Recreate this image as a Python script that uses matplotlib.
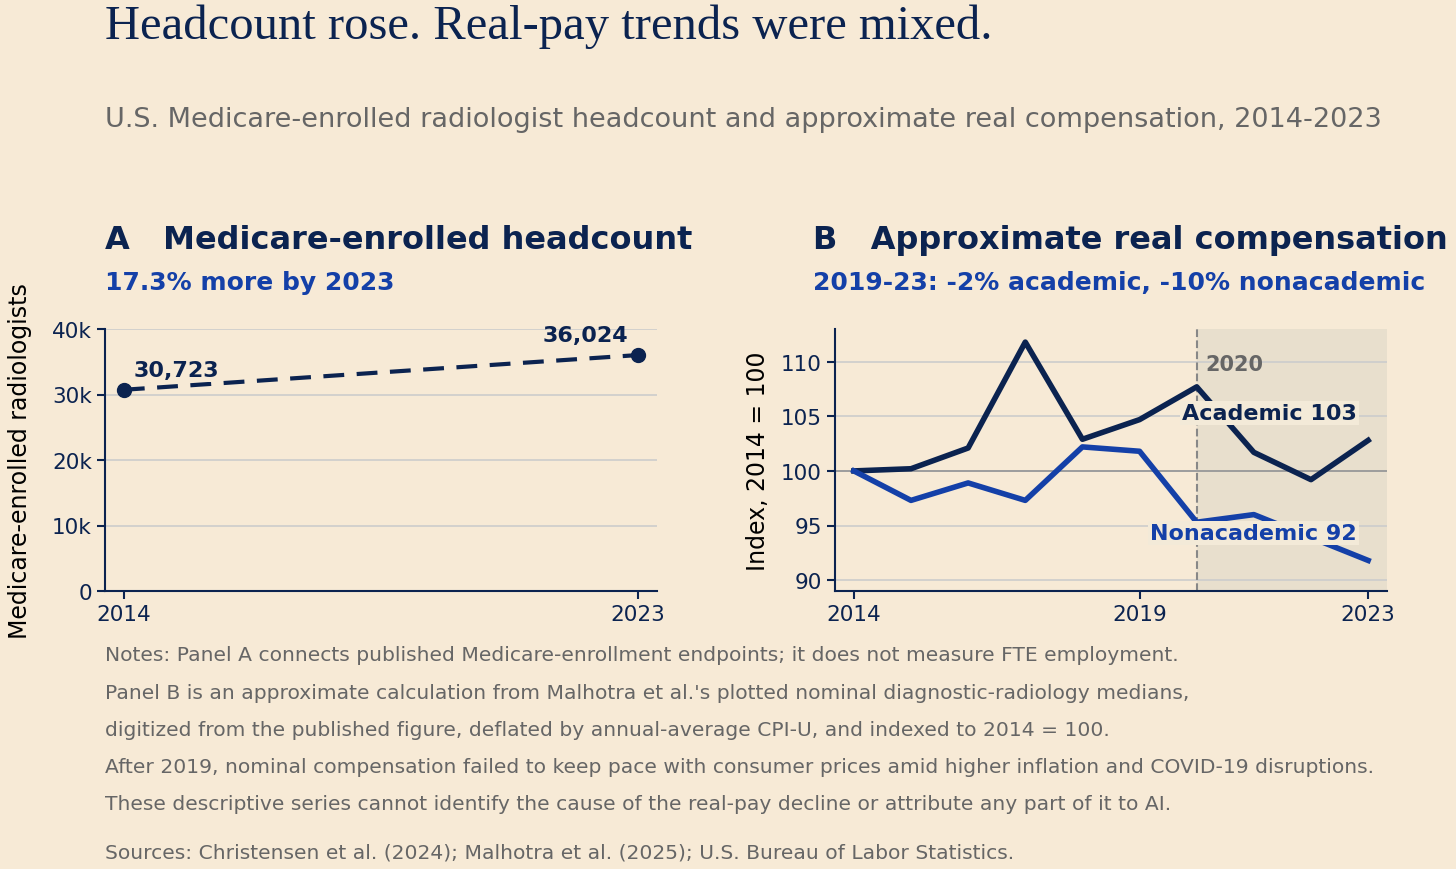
import matplotlib.pyplot as plt

years_a = [2014, 2023]
headcount = [30723, 36024]

years_b = list(range(2014, 2024))
academic = [100, 100.2, 102.1, 111.8, 102.9, 104.7, 107.7, 101.7, 99.2, 102.8]
nonacademic = [100, 97.3, 98.9, 97.3, 102.2, 101.8, 95.3, 96.0, 93.9, 91.8]

bg = '#f7ead6'
navy = '#0b2350'
blue = '#1440a8'
grey = '#666666'

plt.rcParams['font.family'] = ['DejaVu Sans']
fig = plt.figure(figsize=(14.56, 8.7), dpi=100, facecolor=bg)
W, H = 1456, 870

def ax_at(x0, y0, x1, y1):
    return fig.add_axes([x0 / W, 1 - y1 / H, (x1 - x0) / W, (y1 - y0) / H], facecolor=bg)

fig.text(105 / W, 1 - 27 / H, 'Headcount rose. Real-pay trends were mixed.', fontsize=35,
         family='Liberation Serif', color=navy, va='center')
fig.text(105 / W, 1 - 120 / H, 'U.S. Medicare-enrolled radiologist headcount and approximate real compensation, 2014-2023',
         fontsize=19.5, color=grey, va='center')

# Panel A
ax = ax_at(105, 330, 657, 592)
ax.plot(years_a, headcount, '--', color=navy, lw=3, marker='o', ms=10, dashes=(5, 3))
ax.set_ylim(0, 40000)
ax.set_xlim(2013.67, 2023.33)
ax.set_xticks(years_a)
ax.set_yticks([0, 10000, 20000, 30000, 40000])
ax.set_yticklabels(['0', '10k', '20k', '30k', '40k'])
ax.grid(axis='y', color='#cccccc', lw=1.2)
ax.set_axisbelow(True)
ax.set_ylabel('Medicare-enrolled radiologists', fontsize=17, color='black', labelpad=14)
ax.annotate('30,723', (years_a[0], headcount[0]), xytext=(7, 10), textcoords='offset points',
            fontsize=16, fontweight='bold', color=navy,
            bbox=dict(boxstyle='square,pad=0.1', fc=bg, ec='none'))
ax.annotate('36,024', (years_a[1], headcount[1]), xytext=(-7, 10), textcoords='offset points',
            fontsize=16, fontweight='bold', color=navy, ha='right')
ax.text(0, 1.343, 'A   Medicare-enrolled headcount', transform=ax.transAxes, fontsize=23,
        fontweight='bold', color=navy, va='center')
ax.text(0, 1.18, '17.3% more by 2023', transform=ax.transAxes, fontsize=18,
        fontweight='bold', color=blue, va='center')

# Panel B
bx = ax_at(835, 330, 1387, 592)
bx.axvspan(2020, 2023.33, color='#e8dfcd', zorder=0)
bx.axvline(2020, color='#888888', ls='--', lw=1.5)
bx.axhline(100, color='#999999', lw=1.3)
bx.plot(years_b, academic, color=navy, lw=4)
bx.plot(years_b, nonacademic, color=blue, lw=4)
bx.set_ylim(89, 113)
bx.set_xlim(2013.67, 2023.33)
bx.set_xticks([2014, 2019, 2023])
bx.set_yticks([90, 95, 100, 105, 110])
bx.grid(axis='y', color='#cccccc', lw=1.2)
bx.set_axisbelow(True)
bx.set_ylabel('Index, 2014 = 100', fontsize=17, color='black', labelpad=8)
bx.text(2020.15, 109.8, '2020', fontsize=15, fontweight='bold', color=grey, va='center')
bx.text(2022.8, academic[-1] + 2.5, 'Academic %d' % round(academic[-1]), ha='right', va='center',
        fontsize=16, fontweight='bold', color=navy,
        bbox=dict(boxstyle='square,pad=0.1', fc='#f3ead8', ec='none'))
bx.text(2022.8, nonacademic[-1] + 2.5, 'Nonacademic %d' % round(nonacademic[-1]), ha='right', va='center',
        fontsize=16, fontweight='bold', color=blue,
        bbox=dict(boxstyle='square,pad=0.1', fc='#f3ead8', ec='none'))
bx.text(-0.04, 1.343, 'B   Approximate real compensation', transform=bx.transAxes, fontsize=23,
        fontweight='bold', color=navy, va='center')
bx.text(-0.04, 1.18, '2019-23: -2% academic, -10% nonacademic', transform=bx.transAxes, fontsize=18,
        fontweight='bold', color=blue, va='center')

for a in (ax, bx):
    for s in ('top', 'right'):
        a.spines[s].set_visible(False)
    for s in ('left', 'bottom'):
        a.spines[s].set_color(navy)
        a.spines[s].set_linewidth(1.5)
    a.tick_params(colors=navy, labelsize=15.5, length=6, width=1.5)

notes = [
    "Notes: Panel A connects published Medicare-enrollment endpoints; it does not measure FTE employment.",
    "Panel B is an approximate calculation from Malhotra et al.'s plotted nominal diagnostic-radiology medians,",
    "digitized from the published figure, deflated by annual-average CPI-U, and indexed to 2014 = 100.",
    "After 2019, nominal compensation failed to keep pace with consumer prices amid higher inflation and COVID-19 disruptions.",
    "These descriptive series cannot identify the cause of the real-pay decline or attribute any part of it to AI.",
]
for i, line in enumerate(notes):
    fig.text(105 / W, 1 - (656 + 37.2 * i) / H, line, fontsize=14.6, color=grey, va='center')
fig.text(105 / W, 1 - 853 / H, 'Sources: Christensen et al. (2024); Malhotra et al. (2025); U.S. Bureau of Labor Statistics.',
         fontsize=14.6, color=grey, va='center')

fig.savefig('out.png', dpi=100, facecolor=bg)
